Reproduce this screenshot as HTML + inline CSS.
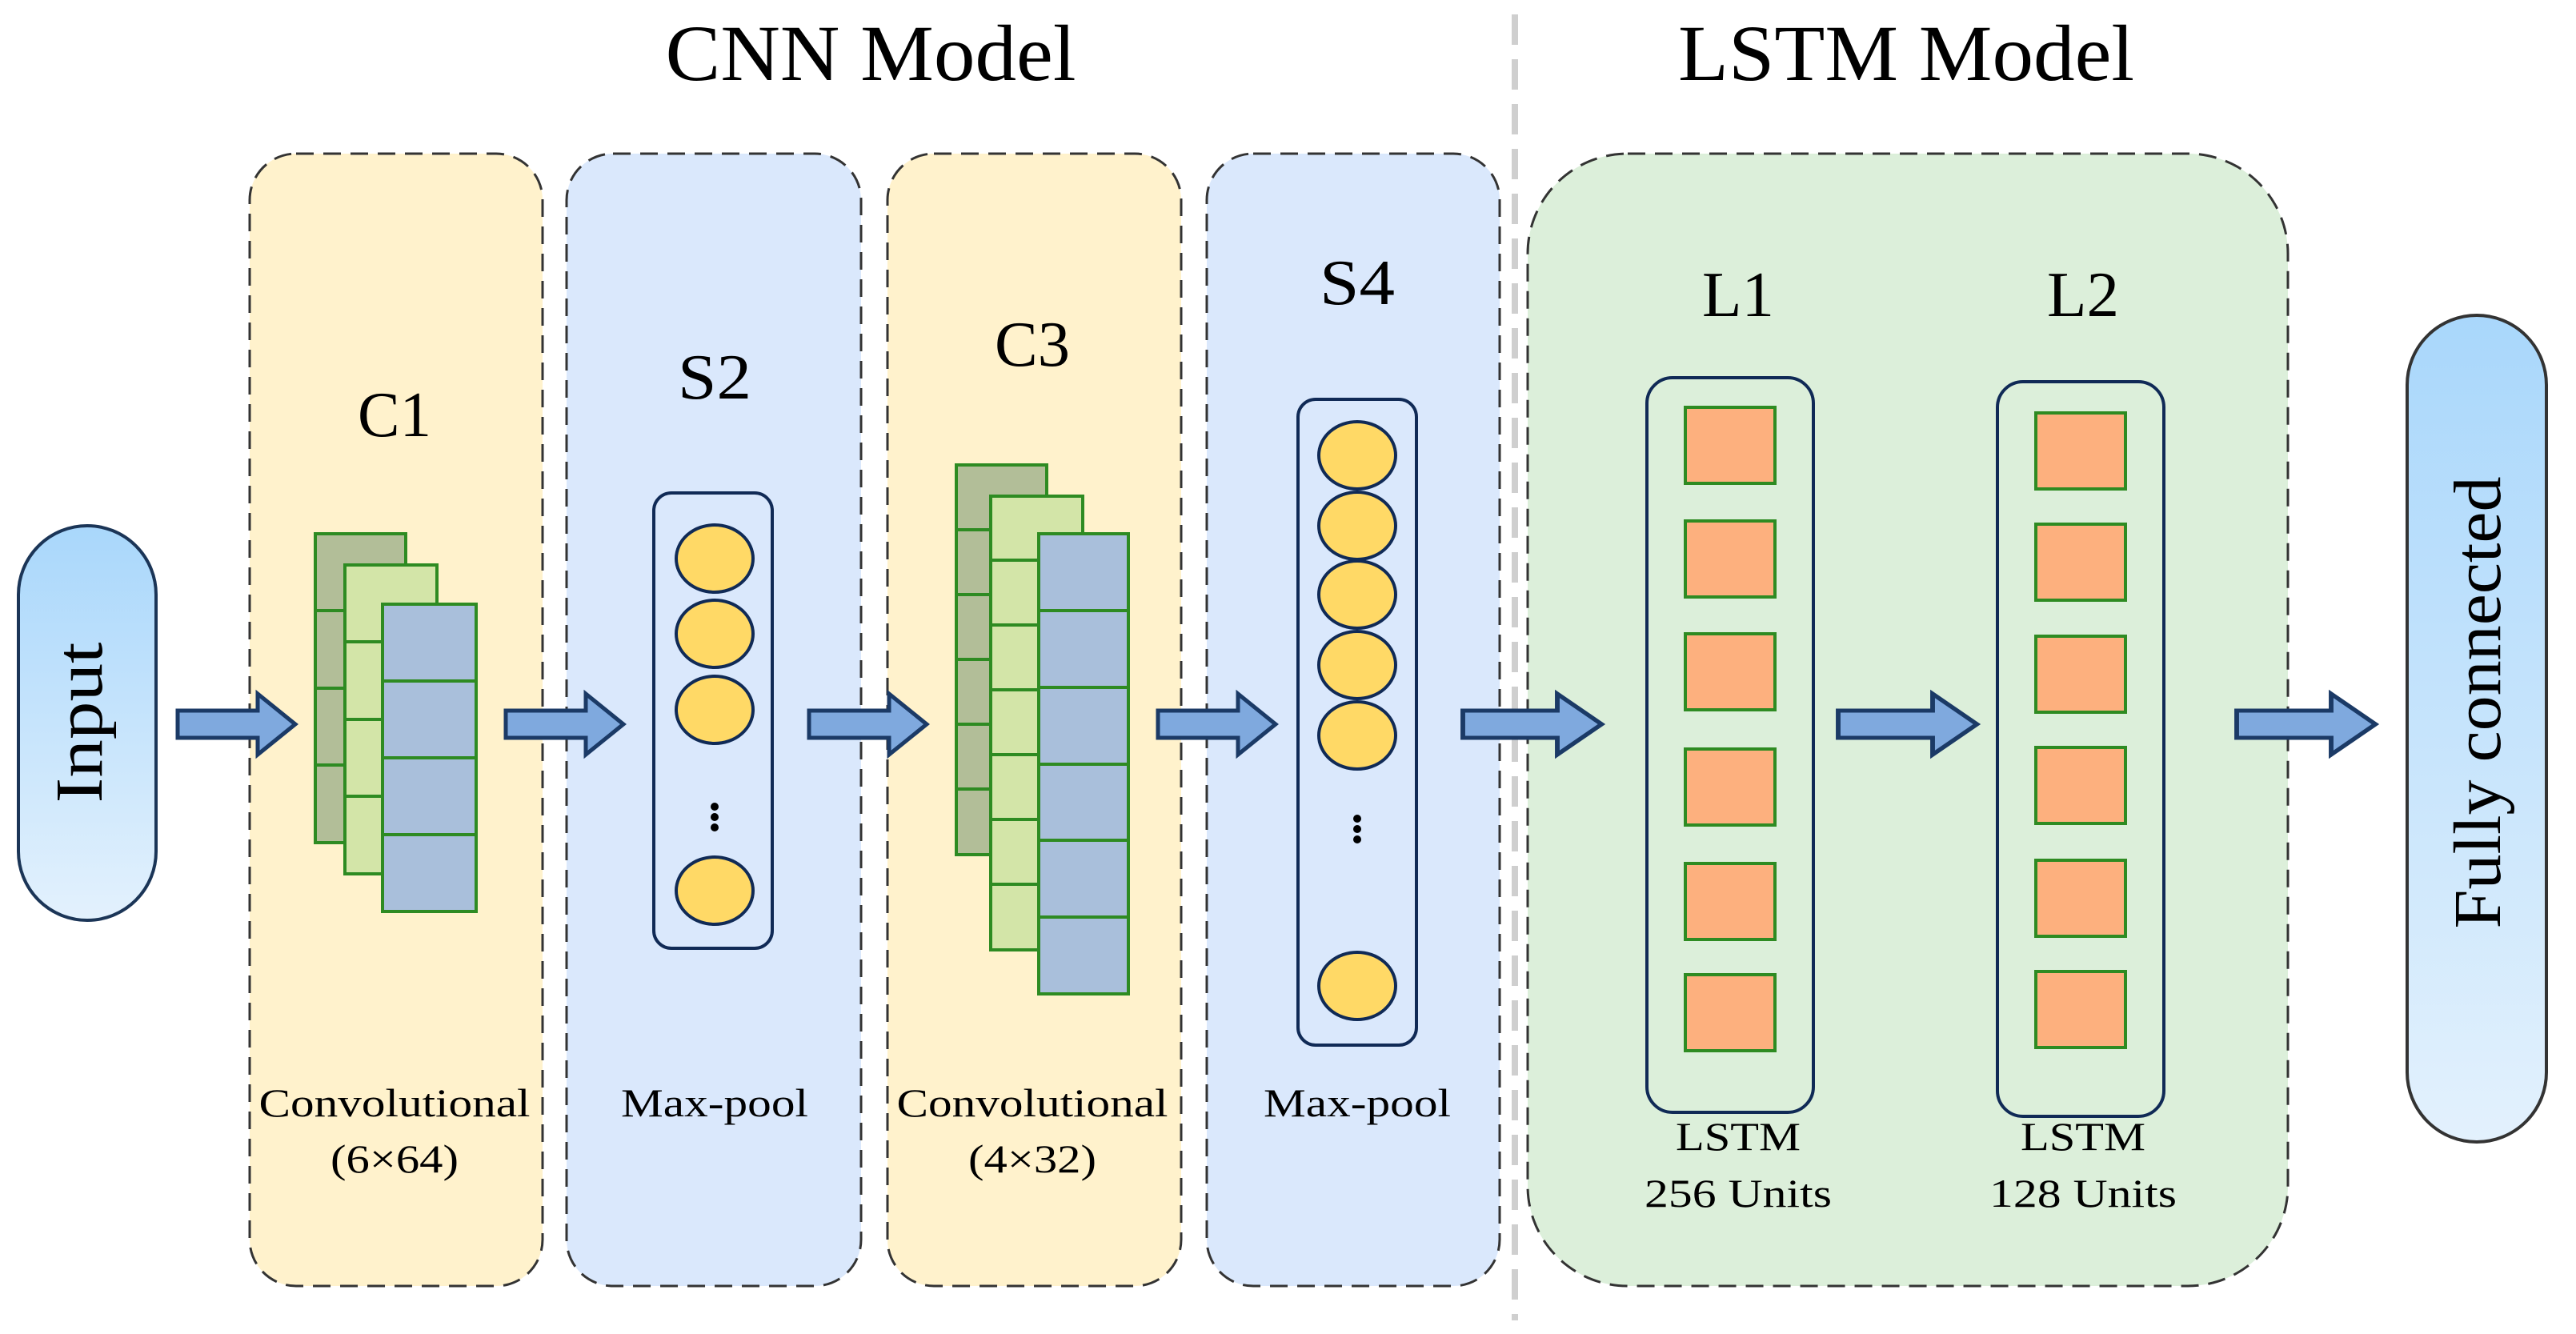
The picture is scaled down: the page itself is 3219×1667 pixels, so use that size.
<!DOCTYPE html>
<html><head><meta charset="utf-8"><style>
html,body{margin:0;padding:0;background:#fff;}
svg{display:block;}
text{font-family:"Liberation Serif",serif;fill:#000;}
</style></head><body>
<svg width="3219" height="1667" viewBox="0 0 3219 1667" xmlns="http://www.w3.org/2000/svg">
<defs>
<linearGradient id="pill" x1="0" y1="0" x2="0" y2="1">
<stop offset="0" stop-color="#a9d7fb"/><stop offset="1" stop-color="#e3f1fd"/>
</linearGradient>
<g id="arr"><path d="M0,-17 H100 V-38 L147,0 L100,38 V17 H0 Z" fill="#7fa9de" stroke="#1b3a66" stroke-width="5" stroke-linejoin="miter"/></g>
</defs>

<text x="1088" y="100" font-size="100" text-anchor="middle" textLength="513" lengthAdjust="spacingAndGlyphs">CNN Model</text>
<text x="2382" y="100" font-size="100" text-anchor="middle" textLength="570" lengthAdjust="spacingAndGlyphs">LSTM Model</text>
<line x1="1893" y1="18" x2="1893" y2="1650" stroke="#cfcfcf" stroke-width="8" stroke-dasharray="38,18"/>

<g stroke="#333" stroke-width="3" stroke-dasharray="22,12">
<rect x="312" y="192" width="366" height="1415" rx="58" fill="#fff2cc"/>
<rect x="708" y="192" width="368" height="1415" rx="58" fill="#dae8fc"/>
<rect x="1109" y="192" width="367" height="1415" rx="58" fill="#fff2cc"/>
<rect x="1508" y="192" width="366" height="1415" rx="58" fill="#dae8fc"/>
<rect x="1909" y="192" width="950" height="1415" rx="125" fill="#dcefda"/>
</g>

<rect x="23" y="657" width="172" height="493" rx="86" fill="url(#pill)" stroke="#1b3557" stroke-width="4"/>
<text transform="translate(127,903) rotate(-90)" font-size="84" text-anchor="middle" textLength="201" lengthAdjust="spacingAndGlyphs">Input</text>
<rect x="3008" y="394" width="174" height="1033" rx="87" fill="url(#pill)" stroke="#333" stroke-width="4"/>
<text transform="translate(3124,878) rotate(-90)" font-size="84" text-anchor="middle" textLength="565" lengthAdjust="spacingAndGlyphs">Fully connected</text>

<g font-size="80" text-anchor="middle">
<text x="493" y="545" textLength="92" lengthAdjust="spacingAndGlyphs">C1</text>
<text x="893" y="498" textLength="92" lengthAdjust="spacingAndGlyphs">S2</text>
<text x="1290" y="457" textLength="94" lengthAdjust="spacingAndGlyphs">C3</text>
<text x="1696" y="380" textLength="94" lengthAdjust="spacingAndGlyphs">S4</text>
<text x="2172" y="395" textLength="90" lengthAdjust="spacingAndGlyphs">L1</text>
<text x="2603" y="395" textLength="90" lengthAdjust="spacingAndGlyphs">L2</text>
</g>
<g font-size="50" text-anchor="middle" lengthAdjust="spacingAndGlyphs">
<text x="493" y="1395" textLength="339" lengthAdjust="spacingAndGlyphs">Convolutional</text>
<text x="493" y="1465" textLength="160" lengthAdjust="spacingAndGlyphs">(6×64)</text>
<text x="893" y="1395" textLength="234" lengthAdjust="spacingAndGlyphs">Max-pool</text>
<text x="1290" y="1395" textLength="339" lengthAdjust="spacingAndGlyphs">Convolutional</text>
<text x="1290" y="1465" textLength="160" lengthAdjust="spacingAndGlyphs">(4×32)</text>
<text x="1696" y="1395" textLength="234" lengthAdjust="spacingAndGlyphs">Max-pool</text>
<text x="2172" y="1437" textLength="156" lengthAdjust="spacingAndGlyphs">LSTM</text>
<text x="2172" y="1508" textLength="234" lengthAdjust="spacingAndGlyphs">256 Units</text>
<text x="2603" y="1437" textLength="156" lengthAdjust="spacingAndGlyphs">LSTM</text>
<text x="2603" y="1508" textLength="234" lengthAdjust="spacingAndGlyphs">128 Units</text>
</g>

<g stroke="#2e8b22" stroke-width="4">
<rect x="394" y="667" width="113" height="386" fill="#b2be98"/>
<line x1="394" y1="763" x2="431" y2="763"/><line x1="394" y1="860" x2="431" y2="860"/><line x1="394" y1="956" x2="431" y2="956"/>
<rect x="431" y="706" width="115" height="386" fill="#d3e5a8"/>
<line x1="431" y1="802" x2="478" y2="802"/><line x1="431" y1="899" x2="478" y2="899"/><line x1="431" y1="995" x2="478" y2="995"/>
<rect x="478" y="755" width="117" height="384" fill="#a9bfdb"/>
<line x1="478" y1="851" x2="595" y2="851"/><line x1="478" y1="947" x2="595" y2="947"/><line x1="478" y1="1043" x2="595" y2="1043"/>
</g>

<g stroke="#2e8b22" stroke-width="4">
<rect x="1195" y="581" width="113" height="487" fill="#b2be98"/>
<line x1="1195" y1="662" x2="1238" y2="662"/><line x1="1195" y1="743" x2="1238" y2="743"/><line x1="1195" y1="824" x2="1238" y2="824"/><line x1="1195" y1="905" x2="1238" y2="905"/><line x1="1195" y1="986" x2="1238" y2="986"/>
<rect x="1238" y="620" width="115" height="567" fill="#d3e5a8"/>
<line x1="1238" y1="700" x2="1298" y2="700"/><line x1="1238" y1="781" x2="1298" y2="781"/><line x1="1238" y1="862" x2="1298" y2="862"/><line x1="1238" y1="943" x2="1298" y2="943"/><line x1="1238" y1="1024" x2="1298" y2="1024"/><line x1="1238" y1="1105" x2="1298" y2="1105"/>
<rect x="1298" y="667" width="112" height="575" fill="#a9bfdb"/>
<line x1="1298" y1="763" x2="1410" y2="763"/><line x1="1298" y1="859" x2="1410" y2="859"/><line x1="1298" y1="955" x2="1410" y2="955"/><line x1="1298" y1="1050" x2="1410" y2="1050"/><line x1="1298" y1="1146" x2="1410" y2="1146"/>
</g>

<rect x="817" y="616" width="148" height="569" rx="22" fill="#dae8fc" stroke="#102a56" stroke-width="4"/>
<g fill="#ffd966" stroke="#102a56" stroke-width="4">
<ellipse cx="893" cy="698" rx="48" ry="42"/>
<ellipse cx="893" cy="792" rx="48" ry="42"/>
<ellipse cx="893" cy="887" rx="48" ry="42"/>
<ellipse cx="893" cy="1113" rx="48" ry="42"/>
</g>
<g fill="#000"><circle cx="893" cy="1008" r="5"/><circle cx="893" cy="1021" r="5"/><circle cx="893" cy="1034" r="5"/></g>

<rect x="1622" y="499" width="148" height="807" rx="22" fill="#dae8fc" stroke="#102a56" stroke-width="4"/>
<g fill="#ffd966" stroke="#102a56" stroke-width="4">
<ellipse cx="1696" cy="569" rx="48" ry="42"/>
<ellipse cx="1696" cy="657" rx="48" ry="42"/>
<ellipse cx="1696" cy="743" rx="48" ry="42"/>
<ellipse cx="1696" cy="831" rx="48" ry="42"/>
<ellipse cx="1696" cy="919" rx="48" ry="42"/>
<ellipse cx="1696" cy="1232" rx="48" ry="42"/>
</g>
<g fill="#000"><circle cx="1696" cy="1023" r="5"/><circle cx="1696" cy="1036" r="5"/><circle cx="1696" cy="1049" r="5"/></g>

<rect x="2058" y="472" width="208" height="918" rx="32" fill="none" stroke="#102a56" stroke-width="4"/>
<g fill="#fdb07e" stroke="#2e8b22" stroke-width="4">
<rect x="2106" y="509" width="112" height="95"/>
<rect x="2106" y="651" width="112" height="95"/>
<rect x="2106" y="792" width="112" height="95"/>
<rect x="2106" y="936" width="112" height="95"/>
<rect x="2106" y="1079" width="112" height="95"/>
<rect x="2106" y="1218" width="112" height="95"/>
</g>
<rect x="2496" y="477" width="208" height="918" rx="32" fill="none" stroke="#102a56" stroke-width="4"/>
<g fill="#fdb07e" stroke="#2e8b22" stroke-width="4">
<rect x="2544" y="516" width="112" height="95"/>
<rect x="2544" y="655" width="112" height="95"/>
<rect x="2544" y="795" width="112" height="95"/>
<rect x="2544" y="934" width="112" height="95"/>
<rect x="2544" y="1075" width="112" height="95"/>
<rect x="2544" y="1214" width="112" height="95"/>
</g>

<use href="#arr" transform="translate(222,905)"/>
<use href="#arr" transform="translate(632,905)"/>
<use href="#arr" transform="translate(1011,905)"/>
<use href="#arr" transform="translate(1447,905)"/>
<use href="#arr" transform="translate(1828,905) scale(1.18,1)"/>
<use href="#arr" transform="translate(2297,905) scale(1.18,1)"/>
<use href="#arr" transform="translate(2795,905) scale(1.18,1)"/>
</svg>
</body></html>
